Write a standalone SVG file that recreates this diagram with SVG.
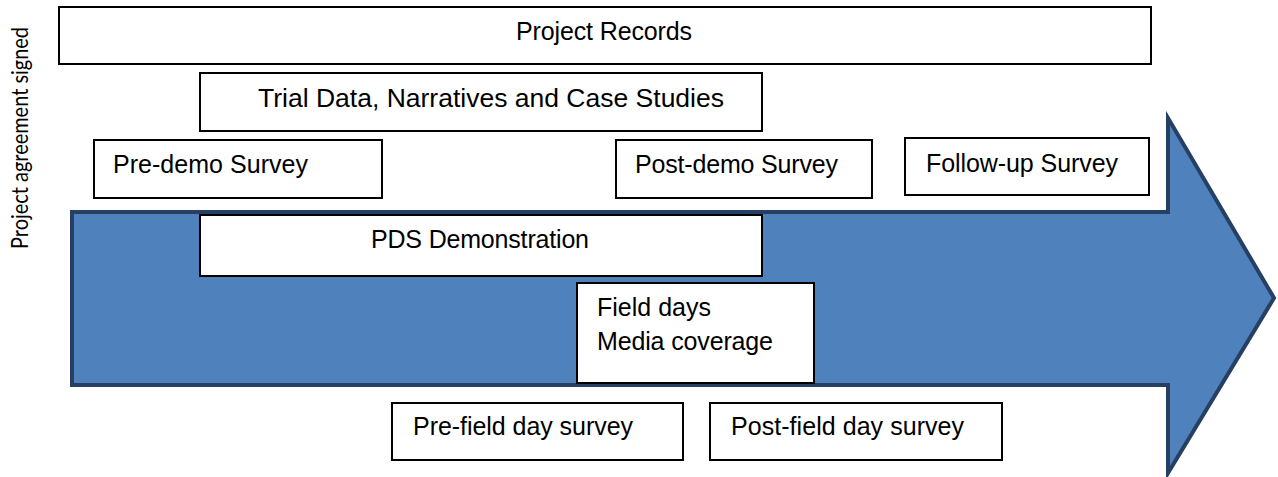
<svg xmlns="http://www.w3.org/2000/svg" width="1278" height="477" viewBox="0 0 1278 477">
  <style>
    .box { fill: #ffffff; stroke: #000000; stroke-width: 2; }
    .lbl { font-family: "Liberation Sans", Arial, sans-serif; font-size: 25px; fill: #000000; }
    .side { font-family: Lato, "Open Sans", sans-serif; font-size: 23px; fill: #000000; }
  </style>

  <!-- timeline arrow -->
  <g id="connectors">
    <path id="timeline-arrow" d="M72,212 L1168,212 L1168,118 L1274,298 L1168,473 L1168,385 L72,385 Z"
          fill="#4f81bd" stroke="#263f63" stroke-width="4" stroke-linejoin="miter"/>
  </g>

  <!-- start marker label -->
  <g id="start-label">
    <text class="side" transform="translate(28,249) rotate(-90)" textLength="222" lengthAdjust="spacingAndGlyphs">Project agreement signed</text>
  </g>

  <g id="project-records">
    <rect class="box" x="59" y="7" width="1092" height="57"/>
    <text class="lbl" x="516" y="40" textLength="176">Project Records</text>
  </g>

  <g id="trial-data">
    <rect class="box" x="200" y="73" width="562" height="58"/>
    <text class="lbl" x="258" y="107" textLength="466" lengthAdjust="spacingAndGlyphs">Trial Data, Narratives and Case Studies</text>
  </g>

  <g id="pre-demo-survey">
    <rect class="box" x="94" y="140" width="288" height="58"/>
    <text class="lbl" x="113" y="173" textLength="195">Pre-demo Survey</text>
  </g>

  <g id="post-demo-survey">
    <rect class="box" x="616" y="140" width="256" height="58"/>
    <text class="lbl" x="635" y="173" textLength="203">Post-demo Survey</text>
  </g>

  <g id="follow-up-survey">
    <rect class="box" x="905" y="138" width="244" height="57"/>
    <text class="lbl" x="926" y="172" textLength="192">Follow-up Survey</text>
  </g>

  <g id="pds-demonstration">
    <rect class="box" x="200" y="215" width="562" height="61"/>
    <text class="lbl" x="371" y="248" textLength="218">PDS Demonstration</text>
  </g>

  <g id="field-days">
    <rect class="box" x="577" y="283" width="237" height="100"/>
    <text class="lbl" x="597" y="316">Field days</text>
    <text class="lbl" x="597" y="350" textLength="176">Media coverage</text>
  </g>

  <g id="pre-field-day-survey">
    <rect class="box" x="392" y="403" width="291" height="57"/>
    <text class="lbl" x="413" y="435" textLength="220">Pre-field day survey</text>
  </g>

  <g id="post-field-day-survey">
    <rect class="box" x="710" y="403" width="292" height="57"/>
    <text class="lbl" x="731" y="435" textLength="233">Post-field day survey</text>
  </g>
</svg>
